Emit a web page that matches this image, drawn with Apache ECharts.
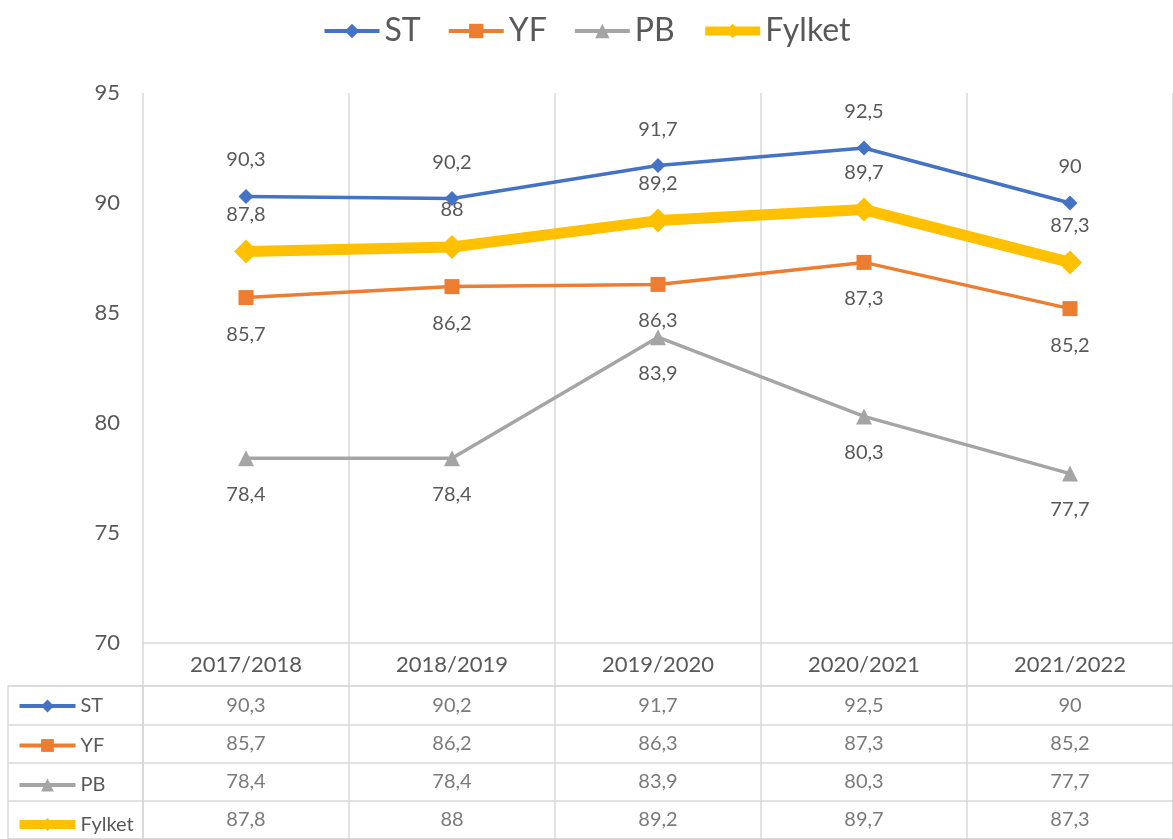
<!DOCTYPE html>
<html>
<head>
<meta charset="utf-8">
<title>ST / YF / PB / Fylket</title>
<script src="https://cdn.jsdelivr.net/npm/echarts@6/dist/echarts.min.js"></script>
<style>
  html, body { margin: 0; padding: 0; background: #fff; }
  #chart { width: 1173px; height: 839px; }
</style>
</head>
<body>
<div id="chart"></div>
<script>
// data
var categories = ['2017/2018', '2018/2019', '2019/2020', '2020/2021', '2021/2022'];
var seriesNames = ['ST', 'YF', 'PB', 'Fylket'];
var stValues = [90.3, 90.2, 91.7, 92.5, 90];
var yfValues = [85.7, 86.2, 86.3, 87.3, 85.2];
var pbValues = [78.4, 78.4, 83.9, 80.3, 77.7];
var fylketValues = [87.8, 88, 89.2, 89.7, 87.3];

var allValues = [stValues, yfValues, pbValues, fylketValues];
var colors = ['#4472C4', '#ED7D31', '#A5A5A5', '#FFC000'];
var gridColor = '#D9D9D9';
var textColor = '#595959';
var font = 'Lato';

function comma(v) {
  return String(v).replace('.', ',');
}

// cells for the data table below the chart
var tableData = [];
for (var r = 0; r < seriesNames.length; r++) {
  for (var i = 0; i < categories.length; i++) {
    tableData.push([categories[i], seriesNames[r], allValues[r][i]]);
  }
}

var myChart = echarts.init(document.getElementById('chart'));

function lineSeries(idx, symbol, size, width, pos, dist) {
  return {
    name: seriesNames[idx],
    type: 'line',
    xAxisIndex: 0,
    yAxisIndex: 0,
    data: allValues[idx],
    symbol: symbol,
    symbolSize: size,
    color: colors[idx],
    lineStyle: { width: width, color: colors[idx] },
    itemStyle: { color: colors[idx] },
    label: {
      show: true,
      position: pos,
      distance: dist,
      fontFamily: font,
      fontSize: 20,
      color: textColor,
      formatter: function (p) { return comma(p.value); }
    },
    emphasis: { disabled: true },
    animation: false
  };
}

var option = {
  backgroundColor: '#fff',
  textStyle: { fontFamily: font },
  legend: [{
    top: 10,
    left: 'center',
    itemWidth: 55,
    itemHeight: 18,
    itemGap: 26,
    textStyle: { fontFamily: font, fontSize: 32, color: textColor },
    data: [
      { name: 'ST', lineStyle: { width: 4 } },
      { name: 'YF', lineStyle: { width: 4 } },
      { name: 'PB', lineStyle: { width: 4 } },
      { name: 'Fylket', lineStyle: { width: 9 } }
    ]
  }, {
    orient: 'vertical',
    left: 10,
    top: 691,
    height: 200,
    itemWidth: 56,
    itemHeight: 16,
    itemGap: 19.5,
    textStyle: { fontFamily: font, fontSize: 20, color: textColor, lineHeight: 20 },
    data: [
      { name: 'ST', lineStyle: { width: 4 } },
      { name: 'YF', lineStyle: { width: 4 } },
      { name: 'PB', lineStyle: { width: 4 } },
      { name: 'Fylket', lineStyle: { width: 9 } }
    ]
  }],
  grid: [
    { left: 143, top: 93, width: 1040, height: 550 },
    { left: 143, top: 686, width: 1040, height: 158, show: true, borderColor: gridColor, borderWidth: 1.5 },
    { left: 8, top: 686, width: 135, height: 158, show: true, borderColor: gridColor, borderWidth: 1.5 }
  ],
  xAxis: [{
    gridIndex: 0,
    type: 'category',
    data: categories,
    boundaryGap: true,
    axisLine: { show: true, lineStyle: { color: gridColor, width: 1.5 } },
    axisTick: { show: true, length: 43, lineStyle: { color: gridColor, width: 1.5 } },
    axisLabel: { fontFamily: font, fontSize: 22, color: textColor, margin: 11 },
    splitLine: { show: true, lineStyle: { color: gridColor, width: 1.5 } }
  }, {
    gridIndex: 1,
    type: 'category',
    data: categories,
    axisLine: { show: false },
    axisTick: { show: false },
    axisLabel: { show: false },
    splitLine: { show: true, lineStyle: { color: gridColor, width: 1.5 } }
  }, {
    gridIndex: 2,
    type: 'value',
    min: 0,
    max: 1,
    show: false
  }],
  yAxis: [{
    gridIndex: 0,
    type: 'value',
    min: 70,
    max: 95,
    interval: 5,
    axisLine: { show: false },
    axisTick: { show: false },
    splitLine: { show: false },
    axisLabel: { fontFamily: font, fontSize: 22, color: textColor, margin: 23 }
  }, {
    gridIndex: 1,
    type: 'category',
    data: seriesNames,
    inverse: true,
    axisLine: { show: false },
    axisTick: { show: false },
    axisLabel: { show: false },
    splitLine: { show: true, lineStyle: { color: gridColor, width: 1.5 } }
  }, {
    gridIndex: 2,
    type: 'category',
    data: seriesNames,
    inverse: true,
    axisLine: { show: false },
    axisTick: { show: false },
    axisLabel: { show: false },
    splitLine: { show: true, lineStyle: { color: gridColor, width: 1.5 } }
  }],
  series: [
    lineSeries(0, 'diamond', 15, 3.5, 'top', 19),
    lineSeries(1, 'rect', 15, 3.5, 'bottom', 19),
    lineSeries(2, 'triangle', 16, 3.5, 'bottom', 18),
    lineSeries(3, 'diamond', 24, 11, 'top', 15),
    {
      name: 'table',
      type: 'scatter',
      xAxisIndex: 1,
      yAxisIndex: 1,
      data: tableData,
      symbolSize: 1,
      itemStyle: { color: 'rgba(0,0,0,0)' },
      label: {
        show: true,
        position: 'inside',
        fontFamily: font,
        fontSize: 20,
        color: textColor,
        formatter: function (p) { return comma(p.value[2]); }
      },
      silent: true,
      animation: false
    }
  ]
};

myChart.setOption(option);
</script>
</body>
</html>
